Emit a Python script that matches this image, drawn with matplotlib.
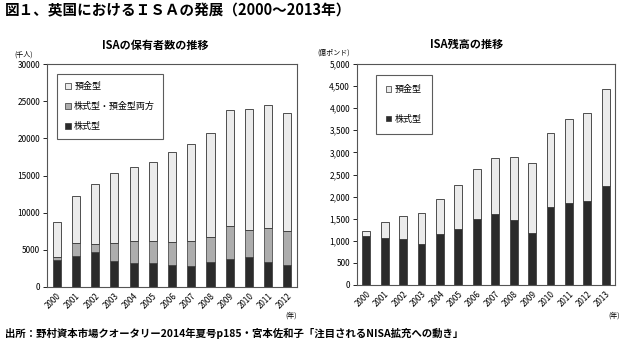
import matplotlib
matplotlib.use("Agg")
import matplotlib.pyplot as plt
from matplotlib.patches import Patch

plt.rcParams['font.family'] = ['Noto Sans CJK JP', 'DejaVu Sans']

# Left chart: ISA holders (thousand people)
years_l = ['2000', '2001', '2002', '2003', '2004', '2005', '2006', '2007', '2008', '2009', '2010', '2011', '2012']
holders_stock = [3650, 4200, 4750, 3500, 3200, 3200, 2950, 2800, 3350, 3800, 4000, 3350, 3000]
holders_both = [400, 1750, 1050, 2400, 3000, 3000, 3150, 3450, 3350, 4450, 3650, 4650, 4500]
holders_total = [8700, 12200, 13800, 15300, 16200, 16850, 18100, 19200, 20750, 23800, 23900, 24500, 23400]
holders_deposit = [t - s - b for t, s, b in zip(holders_total, holders_stock, holders_both)]

# Right chart: ISA balance (100 million pounds)
years_r = ['2000', '2001', '2002', '2003', '2004', '2005', '2006', '2007', '2008', '2009', '2010', '2011', '2012', '2013']
bal_stock = [1100, 1070, 1040, 920, 1150, 1270, 1500, 1610, 1470, 1180, 1770, 1860, 1910, 2250]
bal_total = [1220, 1430, 1570, 1620, 1940, 2260, 2620, 2880, 2900, 2750, 3430, 3750, 3890, 4430]
bal_deposit = [t - s for t, s in zip(bal_total, bal_stock)]

c_stock = '#2b2b2b'
c_both = '#adadad'
c_dep = '#ebebeb'
edge = '#333333'

W, H = 630, 349
fig = plt.figure(figsize=(6.3, 3.49), dpi=100)

def ax_rect(x0, x1, ytop, ybot):
    return [x0 / W, 1 - ybot / H, (x1 - x0) / W, (ybot - ytop) / H]

# ---------- left ----------
axl = fig.add_axes(ax_rect(47, 297, 64, 287))
xl = range(len(years_l))
bw = 0.42
axl.bar(xl, holders_stock, bw, color=c_stock, edgecolor=edge, linewidth=0.5, label='株式型')
axl.bar(xl, holders_both, bw, bottom=holders_stock, color=c_both, edgecolor=edge, linewidth=0.5, label='株式型・預金型両方')
bot2 = [s + b for s, b in zip(holders_stock, holders_both)]
axl.bar(xl, holders_deposit, bw, bottom=bot2, color=c_dep, edgecolor=edge, linewidth=0.6, label='預金型')
axl.set_xlim(-0.5, len(years_l) - 0.5)
axl.set_ylim(0, 30000)
axl.set_yticks(range(0, 30001, 5000))
axl.set_yticklabels([str(v) for v in range(0, 30001, 5000)], fontsize=6)
axl.set_xticks(list(xl))
axl.set_xticklabels(years_l, rotation=45, fontsize=5.8, ha='right', rotation_mode='anchor')
for s in axl.spines.values():
    s.set_linewidth(0.8)
    s.set_color('#555555')
axl.tick_params(axis='y', length=3, width=0.6, pad=2)
axl.tick_params(axis='x', length=0, pad=3)
h = [Patch(facecolor=c_dep, edgecolor=edge, linewidth=0.5),
     Patch(facecolor=c_both, edgecolor=edge, linewidth=0.5),
     Patch(facecolor=c_stock, edgecolor=edge, linewidth=0.5)]
leg = axl.legend(h, ['預金型', '株式型・預金型両方', '株式型'], loc='upper left',
                 bbox_to_anchor=(57 / W, 1 - 74 / H), bbox_transform=fig.transFigure,
                 fontsize=6.5, frameon=True, fancybox=False, edgecolor='#333333',
                 handlelength=0.6, handleheight=0.6, handletextpad=0.4,
                 labelspacing=1.2, borderpad=0.9, borderaxespad=0)
leg.get_frame().set_linewidth(0.8)
fig.text(155 / W, 1 - 45 / H, 'ISAの保有者数の推移', fontsize=8, fontweight='bold', ha='center', va='center')
fig.text(24 / W, 1 - 55 / H, '(千人)', fontsize=5, ha='center', va='center')
fig.text(291 / W, 1 - 316 / H, '(年)', fontsize=5, ha='center', va='center')

# ---------- right ----------
axr = fig.add_axes(ax_rect(357, 615, 64, 285))
xr = range(len(years_r))
axr.bar(xr, bal_stock, bw, color=c_stock, edgecolor=edge, linewidth=0.5, label='株式型')
axr.bar(xr, bal_deposit, bw, bottom=bal_stock, color=c_dep, edgecolor=edge, linewidth=0.6, label='預金型')
axr.set_xlim(-0.5, len(years_r) - 0.5)
axr.set_ylim(0, 5000)
axr.set_yticks(range(0, 5001, 500))
axr.set_yticklabels([f'{v:,}' for v in range(0, 5001, 500)], fontsize=6)
axr.set_xticks(list(xr))
axr.set_xticklabels(years_r, rotation=45, fontsize=5.8, ha='right', rotation_mode='anchor')
for s in axr.spines.values():
    s.set_linewidth(0.8)
    s.set_color('#555555')
axr.tick_params(axis='y', length=3, width=0.6, pad=2)
axr.tick_params(axis='x', length=0, pad=3)
h2 = [Patch(facecolor=c_dep, edgecolor=edge, linewidth=0.5),
      Patch(facecolor=c_stock, edgecolor=edge, linewidth=0.5)]
leg2 = axr.legend(h2, ['預金型', '株式型'], loc='upper left',
                  bbox_to_anchor=(376 / W, 1 - 75 / H), bbox_transform=fig.transFigure,
                  fontsize=6.5, frameon=True, fancybox=False, edgecolor='#333333',
                  handlelength=0.6, handleheight=0.6, handletextpad=0.4,
                  labelspacing=2.3, borderpad=1.1, borderaxespad=0)
leg2.get_frame().set_linewidth(0.8)
fig.text(467 / W, 1 - 44 / H, 'ISA残高の推移', fontsize=8, fontweight='bold', ha='center', va='center')
fig.text(334 / W, 1 - 53 / H, '(億ポンド)', fontsize=5, ha='center', va='center')
fig.text(614 / W, 1 - 316 / H, '(年)', fontsize=5, ha='center', va='center')

# ---------- figure texts ----------
fig.text(5 / W, 1 - 10 / H, '図１、英国におけるＩＳＡの発展（2000～2013年）', fontsize=10.5,
         fontweight='bold', ha='left', va='center')
fig.text(5 / W, 1 - 333 / H, '出所：野村資本市場クオータリー2014年夏号p185・宮本佐和子「注目されるNISA拡充への動き」',
         fontsize=7.5, fontweight='bold', ha='left', va='center')

fig.savefig('out.png', dpi=100, facecolor='white')
